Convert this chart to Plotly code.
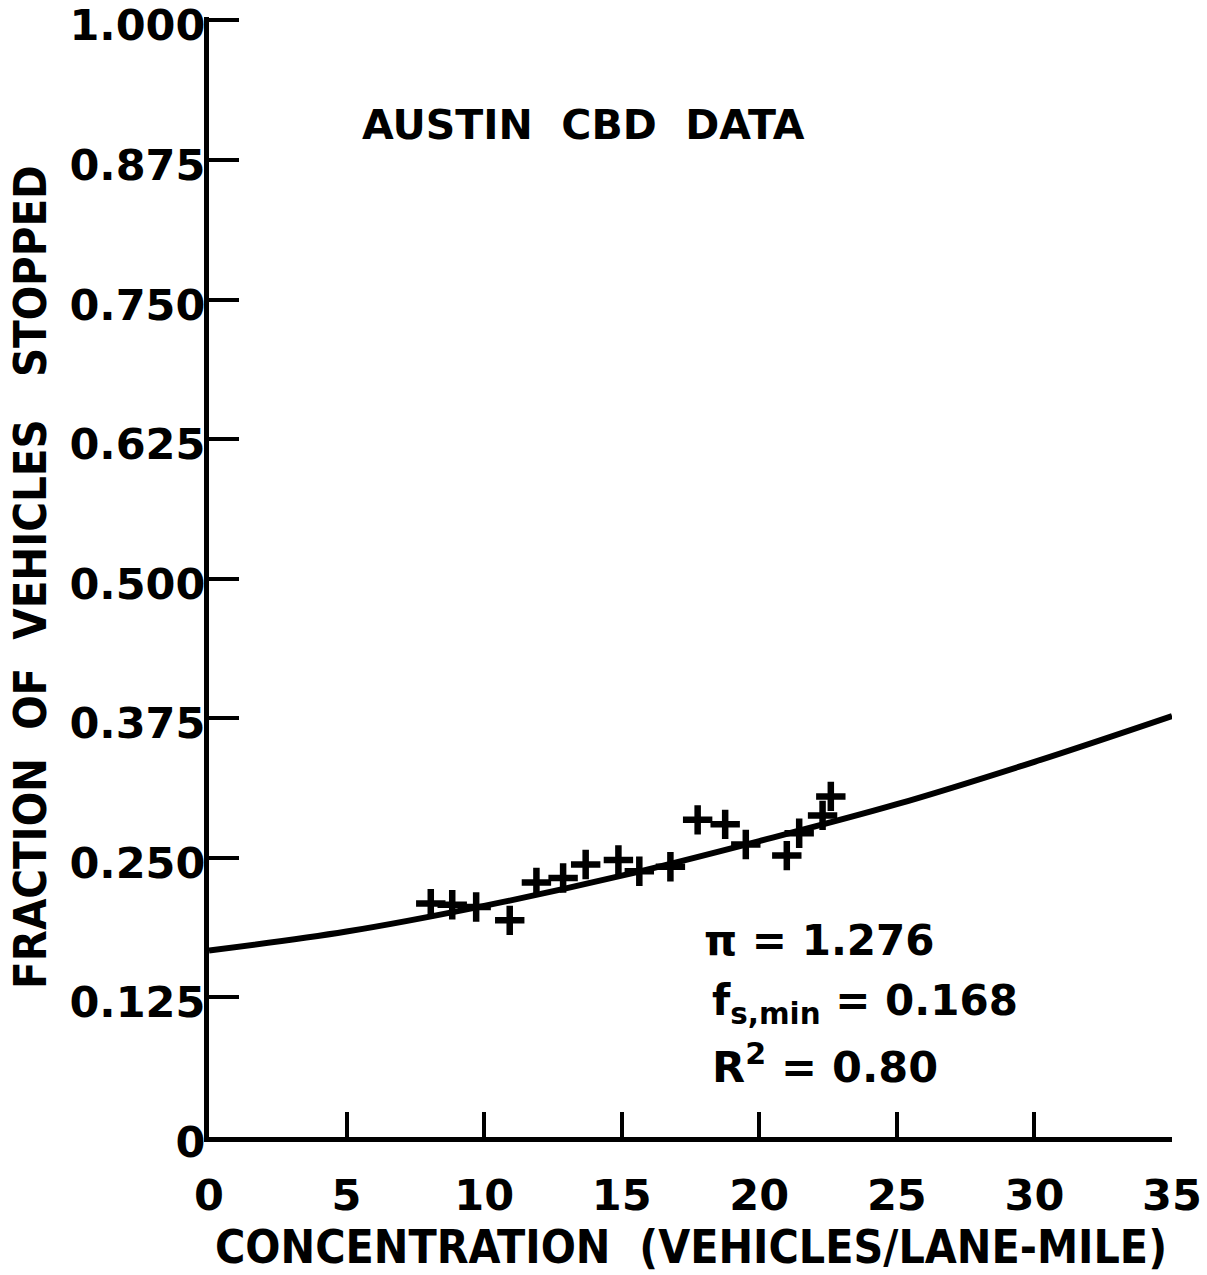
import plotly.graph_objects as go

# Observed Austin CBD data: concentration vs. fraction of vehicles stopped
conc = [8.06, 8.84, 9.71, 10.93, 11.90, 12.87, 13.69, 14.88, 15.64, 16.77,
        17.76, 18.76, 19.51, 21.00, 21.45, 22.30, 22.60]
frac_stopped = [0.209, 0.208, 0.206, 0.194, 0.228, 0.232, 0.244, 0.248, 0.238, 0.242,
                0.284, 0.280, 0.262, 0.252, 0.272, 0.288, 0.305]

# Fitted two-fluid curve
fit_conc = [0, 5, 10, 15, 20, 25, 30, 35]
fit_frac = [0.167, 0.184, 0.207, 0.234, 0.265, 0.298, 0.336, 0.377]

x_ticks = [0, 5, 10, 15, 20, 25, 30, 35]
x_tick_text = ["0", "5", "10", "15", "20", "25", "30", "35"]
y_ticks = [0, 0.125, 0.25, 0.375, 0.5, 0.625, 0.75, 0.875, 1.0]
y_tick_text = ["0", "0.125", "0.250", "0.375", "0.500", "0.625", "0.750", "0.875", "1.000"]

BOLD = "DejaVu Sans"
COND = "DejaVu Sans Condensed"

fig = go.Figure()
fig.add_trace(go.Scatter(
    x=fit_conc, y=fit_frac, mode="lines",
    line=dict(color="black", width=6, shape="spline"),
    hoverinfo="skip", showlegend=False, cliponaxis=False,
))
fig.add_trace(go.Scatter(
    x=conc, y=frac_stopped, mode="markers",
    marker=dict(symbol="cross-thin", size=21, color="black",
                line=dict(color="black", width=6.5)),
    showlegend=False,
))

axis_common = dict(
    showgrid=False, zeroline=False, showline=True, linecolor="black", linewidth=5,
    ticks="inside", tickcolor="black", tickwidth=3.5, automargin=False,
    tickfont=dict(family=BOLD, size=43, color="black", weight="bold"),
)
fig.update_xaxes(range=[0, 35], tickvals=x_ticks, ticktext=x_tick_text,
                 ticklen=25, ticklabelstandoff=16, **axis_common)
fig.update_yaxes(range=[0, 1.003], tickvals=y_ticks, ticktext=y_tick_text,
                 ticklen=30, ticklabelstandoff=-10, ticklabelshift=5,
                 ticklabeloverflow="allow", **axis_common)

annotations = [
    dict(text="AUSTIN  CBD  DATA", x=13.6, y=0.906, xref="x", yref="y",
         showarrow=False, xanchor="center", yanchor="middle",
         font=dict(family=BOLD, size=41, color="black", weight="bold")),
    dict(text="π = 1.276", x=17.9, y=0.176, xref="x", yref="y",
         showarrow=False, xanchor="left", yanchor="middle",
         font=dict(family=BOLD, size=42, color="black", weight="bold")),
    dict(text="f<sub>s,min</sub> = 0.168", x=18.2, y=0.120, xref="x", yref="y",
         showarrow=False, xanchor="left", yanchor="middle",
         font=dict(family=BOLD, size=42, color="black", weight="bold")),
    dict(text="R<sup>2</sup> = 0.80", x=18.2, y=0.065, xref="x", yref="y",
         showarrow=False, xanchor="left", yanchor="middle",
         font=dict(family=BOLD, size=43, color="black", weight="bold")),
    dict(text="CONCENTRATION  (VEHICLES/LANE-MILE)", x=0.5, y=-0.098,
         xref="paper", yref="paper", showarrow=False,
         xanchor="center", yanchor="middle",
         font=dict(family=COND, size=46, color="black", weight="bold")),
    dict(text="FRACTION  OF  VEHICLES   STOPPED", x=-0.186, y=0.5,
         xref="paper", yref="paper", showarrow=False, textangle=-90,
         xanchor="center", yanchor="middle",
         font=dict(family=COND, size=45, color="black", weight="bold")),
]

fig.update_layout(
    width=1207, height=1275,
    margin=dict(l=209, r=35, t=17, b=138),
    paper_bgcolor="white", plot_bgcolor="white",
    annotations=annotations,
)

fig.write_html("out.html")
